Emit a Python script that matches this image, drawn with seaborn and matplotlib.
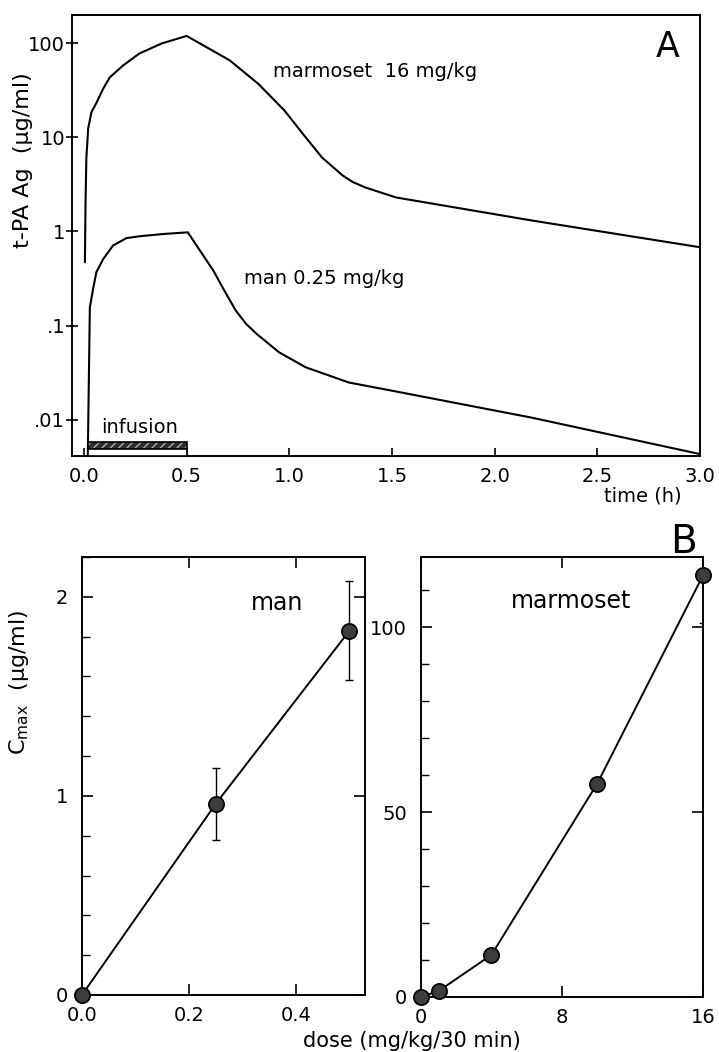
import numpy as np
import pandas as pd
import matplotlib
matplotlib.use("Agg")
import matplotlib.pyplot as plt
import matplotlib.transforms as mtransforms
from matplotlib.patches import Rectangle
from matplotlib.ticker import MultipleLocator, FixedLocator, FixedFormatter
import seaborn as sns

# panel A: t-PA antigen curves
marm_time = [0.005, 0.008, 0.012, 0.021, 0.037, 0.062, 0.094, 0.126, 0.19, 0.27, 0.38, 0.49, 0.50,
             0.71, 0.85, 0.976, 1.065, 1.16, 1.26, 1.31, 1.37, 1.52, 2.18, 3.00]
marm_conc = [0.47, 2.0, 6.0, 12.5, 18.6, 23.5, 33, 43.5, 58, 78, 100, 118, 120,
             66, 37, 19.4, 11, 6.1, 3.94, 3.35, 2.94, 2.3, 1.31, 0.68]
man_time = [0.019, 0.029, 0.045, 0.061, 0.094, 0.142, 0.207, 0.272, 0.385, 0.506,
            0.63, 0.684, 0.74, 0.79, 0.84, 0.95, 1.08, 1.29, 1.50, 2.18, 3.00]
man_conc = [0.004, 0.155, 0.247, 0.37, 0.51, 0.71, 0.85, 0.89, 0.94, 0.98,
            0.385, 0.235, 0.144, 0.104, 0.082, 0.052, 0.036, 0.0248, 0.0203, 0.0105, 0.0043]
infusion = [0.02, 0.5]
a_yticks = [0.01, 0.1, 1, 10, 100]
a_ylabels = [".01", ".1", "1", "10", "100"]

# panel B: Cmax vs dose
man_dose = [0.0, 0.25, 0.5]
man_cmax = [0.0, 0.96, 1.83]
man_err_lo = [0.0, 0.18, 0.25]
man_err_hi = [0.0, 0.18, 0.25]
marm_dose = [0, 1, 4, 10, 16]
marm_cmax = [0, 1.6, 11.4, 57.7, 114]
marm_err = [0, 0, 0, 0, 13]

sns.set_style("ticks")
plt.rcParams["font.family"] = ["DejaVu Sans"]
plt.rcParams["axes.linewidth"] = 1.4
plt.rcParams["mathtext.default"] = "regular"
for key in ("text.color", "axes.labelcolor", "xtick.color", "ytick.color", "axes.edgecolor"):
    plt.rcParams[key] = "black"

fig = plt.figure(figsize=(7.19, 10.52), dpi=100)
axA = fig.add_axes([0.1001, 0.5665, 0.8735, 0.4192])
axB1 = fig.add_axes([0.1140, 0.0542, 0.3936, 0.4163])
axB2 = fig.add_axes([0.5855, 0.0523, 0.3922, 0.4183])

# ---- panel A
dfm = pd.DataFrame({"t": marm_time, "c": marm_conc})
dfh = pd.DataFrame({"t": man_time, "c": man_conc})
sns.lineplot(data=dfm, x="t", y="c", ax=axA, color="black", lw=1.5, sort=False, estimator=None)
sns.lineplot(data=dfh, x="t", y="c", ax=axA, color="black", lw=1.5, sort=False, estimator=None)
axA.set_yscale("log")
axA.set_xlim(-0.058, 3.0)
axA.set_ylim(0.0041, 200)
axA.yaxis.set_major_locator(FixedLocator(a_yticks))
axA.yaxis.set_major_formatter(FixedFormatter(a_ylabels))
axA.yaxis.set_minor_locator(FixedLocator([]))
axA.xaxis.set_major_locator(MultipleLocator(0.5))
axA.xaxis.set_major_formatter(matplotlib.ticker.FormatStrFormatter("%.1f"))
axA.tick_params(axis="y", direction="inout", length=8, width=1.2, pad=1, labelsize=14)
axA.tick_params(axis="x", direction="in", length=6, width=1.2, pad=8, labelsize=14)
axA.set_ylabel("t-PA Ag  (\u03bcg/ml)", fontsize=16)
axA.yaxis.set_label_coords(-0.062, 0.67)
axA.set_xlabel("time (h)", fontsize=14, ha="right")
axA.xaxis.set_label_coords(0.971, -0.07)
axA.text(1.42, 50, "marmoset  16 mg/kg", fontsize=14, ha="center", va="center")
axA.text(1.17, 0.316, "man 0.25 mg/kg", fontsize=14, ha="center", va="center")
axA.text(0.27, 0.0082, "infusion", fontsize=14, ha="center", va="center")
axA.text(0.949, 0.927, "A", transform=axA.transAxes, fontsize=25, ha="center", va="center")

trans = mtransforms.blended_transform_factory(axA.transData, axA.transAxes)
axA.add_patch(Rectangle((infusion[0], 0.016), infusion[1] - infusion[0], 0.016, transform=trans,
                        facecolor="#2e2e2e", edgecolor="#aaaaaa", hatch="////", lw=0, zorder=3))
axA.add_patch(Rectangle((infusion[0], 0.016), infusion[1] - infusion[0], 0.016, transform=trans,
                        facecolor="none", edgecolor="black", lw=1.2, zorder=4))
axA.add_patch(Rectangle((infusion[0], 0.0), infusion[1] - infusion[0], 0.016, transform=trans,
                        facecolor="white", edgecolor="black", lw=1.2, zorder=4))

# ---- panel B, man
marker_kw = dict(marker="o", markersize=11, markerfacecolor="#3c3c3c", markeredgecolor="black",
                 markeredgewidth=1.2)
sns.lineplot(x=man_dose, y=man_cmax, ax=axB1, color="black", lw=1.4, clip_on=False,
             estimator=None, zorder=4, **marker_kw)
axB1.errorbar(man_dose, man_cmax, yerr=[man_err_lo, man_err_hi], fmt="none", ecolor="black",
              elinewidth=1, capsize=3, capthick=1, zorder=3)
axB1.set_xlim(0, 0.529)
axB1.set_ylim(0, 2.2)
axB1.xaxis.set_major_locator(FixedLocator([0.0, 0.2, 0.4]))
axB1.xaxis.set_major_formatter(matplotlib.ticker.FormatStrFormatter("%.1f"))
axB1.yaxis.set_major_locator(FixedLocator([0, 1, 2]))
axB1.yaxis.set_minor_locator(MultipleLocator(0.2))
axB1.set_ylabel("C$_{max}$  (\u03bcg/ml)", fontsize=16)
axB1.yaxis.set_label_coords(-0.18, 0.715)
axB1.text(0.364, 1.97, "man", fontsize=17, ha="center", va="center")

# ---- panel B, marmoset
sns.lineplot(x=marm_dose, y=marm_cmax, ax=axB2, color="black", lw=1.4, clip_on=False,
             estimator=None, zorder=4, **marker_kw)
axB2.errorbar(marm_dose, marm_cmax, yerr=marm_err, fmt="none", ecolor="black",
              elinewidth=1, capsize=3, capthick=1, zorder=3)
axB2.set_xlim(0, 16)
axB2.set_ylim(0, 119)
axB2.xaxis.set_major_locator(FixedLocator([0, 8, 16]))
axB2.yaxis.set_major_locator(FixedLocator([0, 50, 100]))
axB2.yaxis.set_minor_locator(MultipleLocator(10))
axB2.text(8.5, 107, "marmoset", fontsize=17, ha="center", va="center")
axB2.text(14.9, 1.01, "B", transform=axB2.get_xaxis_transform(), fontsize=28,
          ha="center", va="baseline")

for ax in (axB1, axB2):
    ax.tick_params(axis="both", which="major", direction="in", length=8, width=1.2,
                   labelsize=14, top=True, right=True, pad=8)
    ax.tick_params(axis="y", which="major", pad=10)
    ax.tick_params(axis="y", which="minor", direction="in", length=6, width=1, left=True,
                   right=False)
    ax.set_xlabel("")

for ax in (axA, axB1, axB2):
    for s in ax.spines.values():
        s.set_visible(True)
        s.set_linewidth(1.4)
        s.set_color("black")

fig.text(0.573, 0.0105, "dose (mg/kg/30 min)", fontsize=15, ha="center", va="center")

fig.savefig("out.png", dpi=100, facecolor="white")
